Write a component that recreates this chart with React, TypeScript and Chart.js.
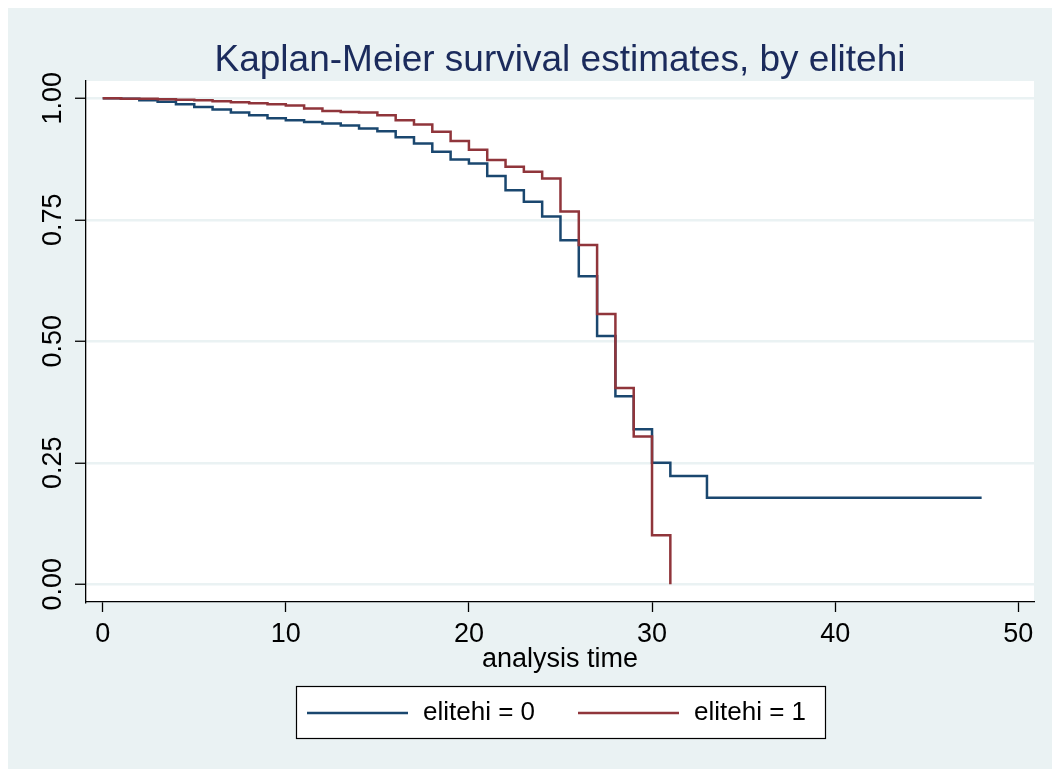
import React, { useEffect, useRef } from "react";
import { Chart, registerables } from "chart.js";

Chart.register(...registerables);

// ---------- data ----------
const chartTitle = "Kaplan-Meier survival estimates, by elitehi";
const xAxisTitle = "analysis time";
const seriesLabels = ["elitehi = 0", "elitehi = 1"];

const timesElite0 = [0, 1, 2, 3, 4, 5, 6, 7, 8, 9, 10, 11, 12, 13, 14, 15, 16, 17, 18, 19, 20, 21, 22, 23, 24, 25, 26, 27, 28, 29, 30, 31, 33, 48];
const survElite0 = [1.0, 0.999, 0.996, 0.993, 0.988, 0.982, 0.977, 0.971, 0.965, 0.959, 0.955, 0.951, 0.948, 0.944, 0.938, 0.932, 0.92, 0.907, 0.89, 0.874, 0.866, 0.84, 0.811, 0.787, 0.757, 0.708, 0.634, 0.511, 0.387, 0.319, 0.25, 0.223, 0.178, 0.178];

const timesElite1 = [0, 1, 3, 4, 5, 6, 7, 8, 9, 10, 11, 12, 13, 14, 15, 16, 17, 18, 19, 20, 21, 22, 23, 24, 25, 26, 27, 28, 29, 30, 31];
const survElite1 = [1.0, 0.999, 0.998, 0.997, 0.996, 0.994, 0.992, 0.99, 0.988, 0.985, 0.979, 0.974, 0.972, 0.971, 0.965, 0.955, 0.946, 0.931, 0.912, 0.894, 0.873, 0.859, 0.849, 0.835, 0.767, 0.698, 0.556, 0.404, 0.304, 0.101, 0.0];

const xTickValues = [0, 10, 20, 30, 40, 50];
const yTickValues = [0, 0.25, 0.5, 0.75, 1];

// ---------- styles ----------
const FONT = '"Liberation Sans", Arial, Helvetica, sans-serif';
const BG = "#eaf2f3";
const BLUE = "#1a476f";
const RED = "#90353b";
const TITLE_COLOR = "#1b2b5c";
const W = 1052;
const H = 761;

const bgPlugin = {
  id: "kmBackground",
  beforeDraw(chart: any) {
    const { ctx, chartArea: a } = chart;
    ctx.save();
    ctx.fillStyle = BG;
    ctx.fillRect(0, 0, chart.width, chart.height);
    ctx.fillStyle = "#ffffff";
    ctx.fillRect(a.left, a.top, a.right - a.left, a.bottom - a.top);
    ctx.restore();
  },
};

const titlePlugin = {
  id: "kmTitle",
  afterDraw(chart: any) {
    const { ctx, chartArea: a } = chart;
    ctx.save();
    ctx.font = `37px ${FONT}`;
    ctx.fillStyle = TITLE_COLOR;
    ctx.textAlign = "center";
    ctx.textBaseline = "alphabetic";
    ctx.fillText(chartTitle, (a.left + a.right) / 2, 63);
    ctx.restore();
  },
};

const legendPlugin = {
  id: "kmLegend",
  afterDraw(chart: any) {
    const ctx = chart.ctx;
    const bx = 288, by = 678, bw = 529, bh = 52;
    ctx.save();
    ctx.fillStyle = "#ffffff";
    ctx.fillRect(bx, by, bw, bh);
    ctx.strokeStyle = "#000000";
    ctx.lineWidth = 1.2;
    ctx.strokeRect(bx + 0.5, by + 0.5, bw, bh);
    const cy = by + bh / 2 + 1;
    const itemX = [299, 570];
    chart.data.datasets.forEach((ds: any, i: number) => {
      const x0 = itemX[i];
      ctx.strokeStyle = ds.borderColor;
      ctx.lineWidth = 2.5;
      ctx.beginPath();
      ctx.moveTo(x0, cy);
      ctx.lineTo(x0 + 101, cy);
      ctx.stroke();
      ctx.fillStyle = "#000000";
      ctx.font = `26px ${FONT}`;
      ctx.textAlign = "left";
      ctx.textBaseline = "middle";
      ctx.fillText(ds.label, x0 + 116, cy);
    });
    ctx.restore();
  },
};

export default function App() {
  const ref = useRef<HTMLCanvasElement | null>(null);

  useEffect(() => {
    document.body.style.overflow = "hidden";
    document.documentElement.style.overflow = "hidden";
    const canvas = ref.current;
    if (!canvas) return;

    const data0 = timesElite0.map((t, i) => ({ x: t, y: survElite0[i] }));
    const data1 = timesElite1.map((t, i) => ({ x: t, y: survElite1[i] }));

    const chart = new Chart(canvas, {
      type: "line",
      data: {
        datasets: [
          {
            label: seriesLabels[0],
            data: data0,
            borderColor: BLUE,
            backgroundColor: BLUE,
            borderWidth: 2.5,
            pointRadius: 0,
            stepped: "before",
            fill: false,
            order: 1,
          },
          {
            label: seriesLabels[1],
            data: data1,
            borderColor: RED,
            backgroundColor: RED,
            borderWidth: 2.5,
            pointRadius: 0,
            stepped: "before",
            fill: false,
            order: 0,
          },
        ],
      },
      options: {
        responsive: false,
        animation: false,
        devicePixelRatio: 1,
        layout: { padding: { left: 0, top: 73, right: W - 1026, bottom: H - 668.2 } },
        plugins: {
          legend: { display: false },
          title: { display: false },
          tooltip: { enabled: false },
        },
        scales: {
          x: {
            type: "linear",
            min: -0.912,
            max: 50.86,
            afterBuildTicks: (scale: any) => {
              scale.ticks = xTickValues.map((v) => ({ value: v }));
            },
            afterFit: (scale: any) => {
              scale.height = 74.2;
            },
            ticks: {
              color: "#000000",
              font: { family: FONT, size: 27 },
              padding: 6,
              maxRotation: 0,
              autoSkip: false,
              callback: (v: any) => String(v),
            },
            grid: {
              drawOnChartArea: false,
              drawTicks: true,
              tickLength: 10,
              tickColor: "#000000",
              tickWidth: 1.3,
            },
            border: { display: true, color: "#000000", width: 1.3 },
            title: {
              display: true,
              text: xAxisTitle,
              color: "#000000",
              font: { family: FONT, size: 27 },
              padding: { top: 0, bottom: 0 },
            },
          },
          y: {
            type: "linear",
            min: -0.0364,
            max: 1.0356,
            afterBuildTicks: (scale: any) => {
              scale.ticks = yTickValues.map((v) => ({ value: v }));
            },
            afterFit: (scale: any) => {
              scale.width = 78;
            },
            ticks: {
              color: "#000000",
              font: { family: FONT, size: 27 },
              minRotation: 90,
              maxRotation: 90,
              crossAlign: "center",
              padding: -5,
              autoSkip: false,
              callback: (v: any) => Number(v).toFixed(2),
            },
            grid: {
              color: BG,
              lineWidth: 2.5,
              drawTicks: true,
              tickLength: 11,
              tickColor: "#000000",
              tickWidth: 1.3,
            },
            border: { display: true, color: "#000000", width: 1.3 },
          },
        },
      },
      plugins: [bgPlugin, titlePlugin, legendPlugin],
    } as any);

    return () => {
      chart.destroy();
    };
  }, []);

  return (
    <div style={{ width: W, height: H }}>
      <canvas ref={ref} width={W} height={H} style={{ display: "block", width: W, height: H }} />
    </div>
  );
}
